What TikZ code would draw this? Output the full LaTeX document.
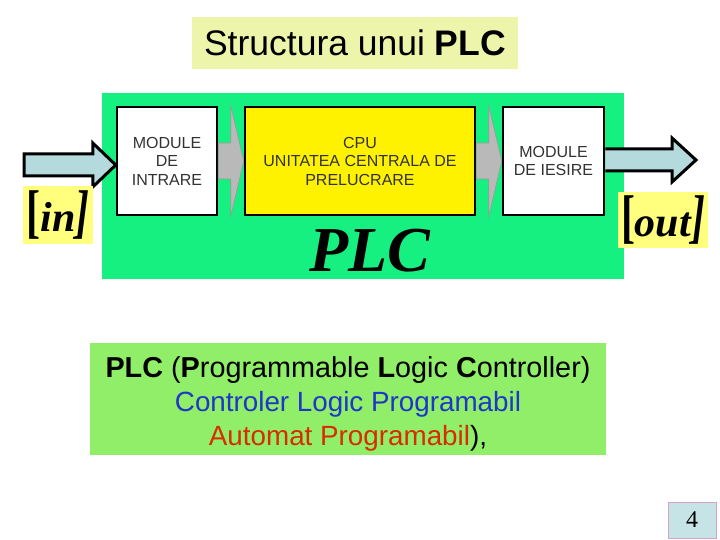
\documentclass[tikz,border=0pt]{standalone}
\usepackage{fontspec}
\setmainfont{Liberation Sans}
\newfontfamily\timesfont{Liberation Serif}
\usetikzlibrary{calc}
\definecolor{titlefill}{RGB}{236,245,170}
\definecolor{plcgreen}{RGB}{22,240,128}
\definecolor{notegreen}{RGB}{144,238,104}
\definecolor{iofill}{RGB}{180,218,222}
\definecolor{lblyellow}{RGB}{255,255,125}
\definecolor{modtext}{RGB}{50,50,50}
\definecolor{roblue}{RGB}{30,55,200}
\definecolor{rored}{RGB}{215,45,0}
\definecolor{pagefill}{RGB}{198,228,230}
\definecolor{pageedge}{RGB}{215,160,200}

\begin{document}
\begin{tikzpicture}[x=1pt,y=-1pt,
modbox/.style={draw=black,line width=2.5pt,align=center,text=modtext,
  font=\fontsize{16}{18.5}\selectfont,minimum height=108pt,inner sep=0pt},
linkarrow/.style={fill=gray!55,draw=gray!80,line width=0.6pt},
ioarrow/.style={fill=iofill,draw=black,line width=3pt,line join=miter},
iolabel/.style={fill=lblyellow,inner sep=0pt,font=\timesfont\bfseries\fontsize{42}{42}\selectfont},
]
\useasboundingbox (0,0) rectangle (720,540);
\node[fill=titlefill,minimum width=326pt,minimum height=52pt,inner sep=0pt,
  font=\fontsize{35.5}{36}\selectfont] (title) at (355,43) {Structura unui \textbf{PLC}};

%blocul PLC
\node[fill=plcgreen,minimum width=522pt,minimum height=186pt] (plc) at (363,186) {};
\node[modbox,fill=white,minimum width=100pt] (min) at (167,161) {MODULE\\DE\\INTRARE};
\node[modbox,fill=yellow,minimum width=230pt] (cpu) at (360,161) {CPU\\UNITATEA CENTRALA DE\\PRELUCRARE};
\node[modbox,fill=white,minimum width=101pt] (mout) at (553.5,161) {MODULE\\DE IESIRE};
\node[font=\timesfont\bfseries\itshape\fontsize{64}{64}\selectfont,inner sep=0pt] (plclbl) at (370,251) {PLC};

%sagetile gri
\draw[linkarrow] ($(min.east)+(0,-18)$) -- ($(cpu.west)+(-13,-18)$) -- ($(cpu.north west)+(-13,0)$)
  -- (cpu.west) -- ($(cpu.south west)+(-13,0)$) -- ($(cpu.west)+(-13,18)$) -- ($(min.east)+(0,18)$) -- cycle;
\draw[linkarrow] ($(cpu.east)+(0,-18)$) -- ($(mout.west)+(-13,-18)$) -- ($(mout.north west)+(-13,0)$)
  -- (mout.west) -- ($(mout.south west)+(-13,0)$) -- ($(mout.west)+(-13,18)$) -- ($(cpu.east)+(0,18)$) -- cycle;

%intrare / iesire
\coordinate (inbeg) at (24,165);
\coordinate (intip) at (min.west |- inbeg);
\draw[ioarrow] ($(inbeg)+(0,-11)$) -- ($(intip)+(-23,-11)$) -- ($(intip)+(-23,-22)$) -- (intip)
  -- ($(intip)+(-23,22)$) -- ($(intip)+(-23,11)$) -- ($(inbeg)+(0,11)$) -- cycle;
\coordinate (outend) at (696,160);
\coordinate (outbeg) at (mout.east |- outend);
\draw[ioarrow] ($(outbeg)+(0,-11)$) -- ($(outend)+(-24,-11)$) -- ($(outend)+(-24,-22)$) -- (outend)
  -- ($(outend)+(-24,22)$) -- ($(outend)+(-24,11)$) -- ($(outbeg)+(0,11)$);
\node[iolabel,minimum width=70pt,minimum height=58pt] (inlbl) at (58,215)
  {\scalebox{1}[1.4]{[}\itshape in\scalebox{1}[1.4]{]}};
\node[iolabel,minimum width=90pt,minimum height=56pt] (outlbl) at (663,220)
  {\scalebox{1}[1.4]{[}\itshape out\scalebox{1}[1.4]{]}};

%explicatie
\node[fill=notegreen,minimum width=516pt,minimum height=112pt] (note) at (348,399) {};
\node[align=center,font=\fontsize{28.8}{34}\selectfont] (notetxt) at (348,404)
  {\textbf{PLC} (\textbf{P}rogrammable \textbf{L}ogic \textbf{C}ontroller)\\
   \fontsize{27.8}{34}\selectfont\textcolor{roblue}{Controler Logic Programabil}\\
   \fontsize{27.8}{34}\selectfont\textcolor{rored}{Automat Programabil}),};

\node[fill=pagefill,draw=pageedge,line width=1pt,minimum width=48pt,minimum height=36pt,
  font=\timesfont\fontsize{24}{24}\selectfont] (page) at (692,520) {4};
\end{tikzpicture}
\end{document}
